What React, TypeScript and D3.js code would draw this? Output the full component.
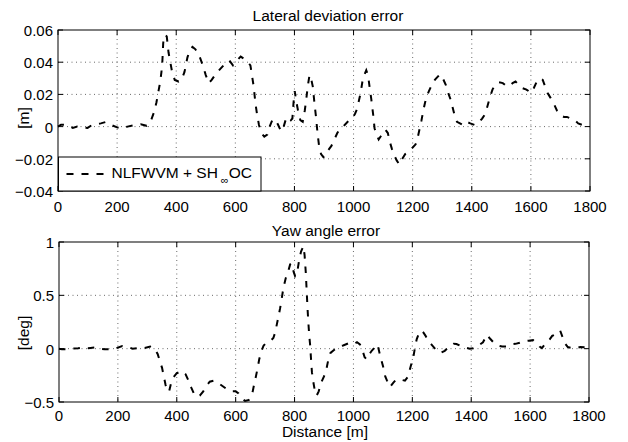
import React from "react";
import * as d3 from "d3";

const latDist = [0, 10, 30, 50, 65, 85, 100, 115, 145, 160, 180, 200, 215, 235, 255, 280, 300, 315, 325, 333, 340, 346, 350, 353, 356, 362, 368, 374, 380, 386, 395, 408, 418, 428, 438, 447, 455, 465, 478, 490, 500, 510, 520, 535, 550, 565, 580, 592, 605, 618, 630, 642, 651, 657, 662, 666, 670, 674, 680, 688, 698, 708, 716, 725, 735, 745, 755, 762, 770, 780, 788, 793, 797, 801, 805, 812, 820, 828, 835, 840, 845, 851, 856, 862, 868, 873, 878, 884, 890, 898, 906, 915, 925, 935, 945, 955, 970, 980, 995, 1005, 1012, 1018, 1024, 1030, 1036, 1043, 1049, 1054, 1060, 1066, 1071, 1078, 1085, 1092, 1100, 1108, 1116, 1122, 1130, 1138, 1146, 1155, 1165, 1175, 1188, 1200, 1210, 1218, 1224, 1230, 1236, 1242, 1248, 1255, 1265, 1275, 1285, 1292, 1302, 1312, 1320, 1328, 1335, 1342, 1350, 1360, 1370, 1382, 1395, 1410, 1422, 1435, 1446, 1452, 1458, 1463, 1470, 1480, 1492, 1505, 1515, 1525, 1538, 1548, 1558, 1570, 1585, 1600, 1610, 1620, 1632, 1640, 1648, 1656, 1666, 1676, 1688, 1700, 1712, 1722, 1735, 1748, 1760, 1775];
const latErr = [0.0, 0.0012, 0.001, -0.0008, 0.0, -0.0005, -0.0008, 0.001, 0.002, 0.0028, 0.001, -0.0005, -0.0012, 0.0, 0.0008, 0.0015, 0.0005, 0.004, 0.009, 0.015, 0.022, 0.028, 0.034, 0.04, 0.052, 0.057, 0.056, 0.046, 0.04, 0.034, 0.029, 0.028, 0.029, 0.034, 0.043, 0.048, 0.0495, 0.048, 0.044, 0.038, 0.032, 0.027, 0.029, 0.033, 0.036, 0.039, 0.041, 0.038, 0.041, 0.0435, 0.042, 0.04, 0.038, 0.031, 0.025, 0.018, 0.012, 0.007, 0.001, -0.004, -0.0062, -0.005, 0.0, 0.004, 0.0045, 0.001, -0.003, -0.001, 0.004, 0.006, 0.004, 0.005, 0.015, 0.022, 0.017, 0.01, 0.004, 0.003, 0.01, 0.017, 0.025, 0.032, 0.03, 0.025, 0.014, 0.006, -0.004, -0.013, -0.017, -0.019, -0.018, -0.0145, -0.012, -0.008, -0.004, -0.001, 0.001, 0.003, 0.005, 0.008, 0.011, 0.016, 0.021, 0.028, 0.032, 0.035, 0.032, 0.025, 0.017, 0.008, -0.001, -0.005, -0.008, -0.006, -0.003, -0.002, -0.004, -0.009, -0.014, -0.018, -0.021, -0.0235, -0.02, -0.017, -0.015, -0.013, -0.011, -0.006, -0.001, 0.004, 0.01, 0.015, 0.019, 0.022, 0.026, 0.029, 0.031, 0.0325, 0.03, 0.026, 0.021, 0.017, 0.012, 0.007, 0.003, 0.002, 0.001, 0.003, 0.002, 0.001, 0.002, 0.005, 0.008, 0.012, 0.016, 0.019, 0.023, 0.026, 0.0275, 0.027, 0.0255, 0.025, 0.027, 0.028, 0.026, 0.024, 0.023, 0.021, 0.024, 0.028, 0.03, 0.029, 0.025, 0.021, 0.018, 0.015, 0.01, 0.007, 0.006, 0.006, 0.005, 0.004, 0.002, 0.001];

const yawDist = [0, 10, 25, 45, 65, 85, 100, 120, 135, 155, 175, 195, 215, 230, 250, 270, 290, 310, 325, 335, 343, 350, 356, 362, 368, 374, 380, 388, 400, 418, 430, 440, 450, 458, 468, 478, 490, 500, 512, 525, 540, 555, 570, 585, 600, 610, 620, 632, 645, 652, 658, 663, 668, 674, 680, 688, 695, 705, 718, 728, 734, 740, 746, 751, 756, 762, 770, 778, 785, 790, 797, 802, 808, 815, 822, 830, 834, 838, 841, 844, 847, 850, 853, 856, 859, 863, 868, 875, 882, 890, 900, 909, 915, 922, 935, 950, 965, 983, 1000, 1012, 1022, 1030, 1038, 1045, 1052, 1062, 1075, 1082, 1086, 1091, 1097, 1102, 1108, 1114, 1124, 1135, 1145, 1160, 1175, 1186, 1192, 1198, 1204, 1209, 1215, 1222, 1230, 1238, 1245, 1255, 1266, 1280, 1295, 1310, 1325, 1340, 1350, 1365, 1380, 1395, 1410, 1425, 1440, 1453, 1462, 1475, 1490, 1505, 1520, 1535, 1550, 1565, 1580, 1595, 1610, 1622, 1632, 1640, 1650, 1662, 1675, 1690, 1702, 1710, 1718, 1728, 1740, 1755, 1770, 1785];
const yawErr = [0.0, -0.005, -0.006, 0.0, 0.005, 0.012, 0.005, 0.01, 0.0, -0.006, -0.005, 0.005, 0.025, 0.02, 0.0, 0.004, 0.005, 0.02, 0.0, -0.05, -0.12, -0.18, -0.26, -0.34, -0.4, -0.4, -0.33, -0.27, -0.23, -0.21, -0.24, -0.3, -0.37, -0.42, -0.45, -0.44, -0.4, -0.35, -0.31, -0.3, -0.32, -0.35, -0.38, -0.4, -0.4, -0.42, -0.46, -0.49, -0.48, -0.45, -0.4, -0.33, -0.27, -0.19, -0.1, -0.02, 0.03, 0.056, 0.072, 0.1, 0.15, 0.23, 0.31, 0.38, 0.46, 0.57, 0.66, 0.72, 0.79, 0.8, 0.72, 0.68, 0.7, 0.82, 0.91, 0.96, 0.88, 0.72, 0.55, 0.38, 0.24, 0.12, 0.03, -0.1, -0.22, -0.3, -0.38, -0.44, -0.4, -0.32, -0.26, -0.18, -0.1, -0.04, -0.01, 0.02, 0.03, 0.05, 0.04, 0.06, 0.04, -0.01, -0.08, -0.1, -0.06, -0.02, 0.02, 0.04, -0.01, -0.07, -0.13, -0.18, -0.26, -0.3, -0.36, -0.32, -0.29, -0.29, -0.3, -0.26, -0.19, -0.13, -0.07, 0.01, 0.09, 0.14, 0.17, 0.15, 0.12, 0.07, 0.035, -0.01, -0.04, -0.02, 0.02, 0.045, 0.044, 0.025, 0.01, 0.0, 0.005, 0.03, 0.06, 0.13, 0.1, 0.06, 0.03, 0.02, 0.02, 0.04, 0.045, 0.055, 0.07, 0.075, 0.08, 0.05, 0.02, 0.005, 0.04, 0.07, 0.12, 0.14, 0.17, 0.11, 0.05, 0.015, 0.008, 0.004, 0.015, 0.013];

const xTicks = [0, 200, 400, 600, 800, 1000, 1200, 1400, 1600, 1800];
const latTicks = [-0.04, -0.02, 0, 0.02, 0.04, 0.06];
const latTickLabels = ["\u22120.04", "\u22120.02", "0", "0.02", "0.04", "0.06"];
const yawTicks = [-0.5, 0, 0.5, 1];
const yawTickLabels = ["\u22120.5", "0", "0.5", "1"];

const FONT = "'Liberation Sans', Arial, Helvetica, sans-serif";

type PanelProps = {
  left: number; right: number; top: number; bottom: number;
  dist: number[]; vals: number[];
  yDomain: [number, number];
  yTicks: number[]; yLabels: string[];
  title: string; titleX: number; titleY: number;
  ylabel: string; ylabelY: number;
  xLabelOffset: number;
};

function Panel(p: PanelProps) {
  const x = d3.scaleLinear().domain([0, 1800]).range([p.left, p.right]);
  const y = d3.scaleLinear().domain(p.yDomain).range([p.bottom, p.top]);
  const pts = p.dist.map((d, i) => [d, p.vals[i]] as [number, number]);
  const line = d3.line<[number, number]>().x(d => x(d[0])).y(d => y(d[1]));
  const tl = 5;
  return (
    <g>
      {xTicks.slice(1, -1).map(t => (
        <line key={"gx" + t} x1={x(t)} x2={x(t)} y1={p.top} y2={p.bottom}
          stroke="#444" strokeWidth={0.8} strokeDasharray="1,3.5" />
      ))}
      {p.yTicks.filter(t => t !== p.yDomain[0] && t !== p.yDomain[1]).map(t => (
        <line key={"gy" + t} x1={p.left} x2={p.right} y1={y(t)} y2={y(t)}
          stroke="#444" strokeWidth={0.8} strokeDasharray="1,3.5" />
      ))}
      <path d={line(pts) || ""} fill="none" stroke="#000" strokeWidth={2}
        strokeDasharray="6.5,8" />
      {xTicks.map(t => (
        <g key={"tx" + t}>
          <line x1={x(t)} x2={x(t)} y1={p.bottom} y2={p.bottom - tl} stroke="#000" />
          <line x1={x(t)} x2={x(t)} y1={p.top} y2={p.top + tl} stroke="#000" />
          <text x={x(t)} y={p.bottom + p.xLabelOffset} textAnchor="middle"
            fontSize={15} fontFamily={FONT}>{t}</text>
        </g>
      ))}
      {p.yTicks.map((t, i) => (
        <g key={"ty" + t}>
          <line x1={p.left} x2={p.left + tl} y1={y(t)} y2={y(t)} stroke="#000" />
          <line x1={p.right} x2={p.right - tl} y1={y(t)} y2={y(t)} stroke="#000" />
          <text x={p.left - 5} y={y(t) + 6} textAnchor="end"
            fontSize={15} fontFamily={FONT}>{p.yLabels[i]}</text>
        </g>
      ))}
      <rect x={p.left} y={p.top} width={p.right - p.left} height={p.bottom - p.top}
        fill="none" stroke="#000" strokeWidth={1} />
      <text x={p.titleX} y={p.titleY} textAnchor="middle" fontSize={15.5}
        fontFamily={FONT}>{p.title}</text>
      <text transform={`translate(29,${p.ylabelY}) rotate(-90)`} textAnchor="middle"
        fontSize={15.5} fontFamily={FONT}>{p.ylabel}</text>
    </g>
  );
}

export default function App() {
  return (
    <svg width={628} height={442} style={{ position: "absolute", left: 0, top: 0, background: "#fff" }}>
      <rect x={0} y={0} width={628} height={442} fill="#fff" />
      <Panel left={58} right={590} top={30} bottom={191}
        dist={latDist} vals={latErr} yDomain={[-0.04, 0.06]}
        yTicks={latTicks} yLabels={latTickLabels}
        title="Lateral deviation error" titleX={328} titleY={20.5}
        ylabel="[m]" ylabelY={118} xLabelOffset={20.5} />
      <Panel left={59} right={589} top={242} bottom={402}
        dist={yawDist} vals={yawErr} yDomain={[-0.5, 1]}
        yTicks={yawTicks} yLabels={yawTickLabels}
        title="Yaw angle error" titleX={326} titleY={235.5}
        ylabel="[deg]" ylabelY={333} xLabelOffset={18.5} />
      <g>
        <rect x={58.5} y={157} width={202.5} height={34} fill="#fff" stroke="#000" strokeWidth={1} />
        <line x1={66.5} x2={105} y1={174} y2={174} stroke="#000" strokeWidth={2} strokeDasharray="7,8" />
        <text x={111.5} y={177.5} fontSize={15.5} fontFamily={FONT}>
          NLFWVM + SH<tspan dx={3} dy={6} fontSize={11}>{"\u221E"}</tspan><tspan dy={-6}>OC</tspan>
        </text>
      </g>
      <text x={325} y={437} textAnchor="middle" fontSize={15.5} fontFamily={FONT}>Distance [m]</text>
    </svg>
  );
}
